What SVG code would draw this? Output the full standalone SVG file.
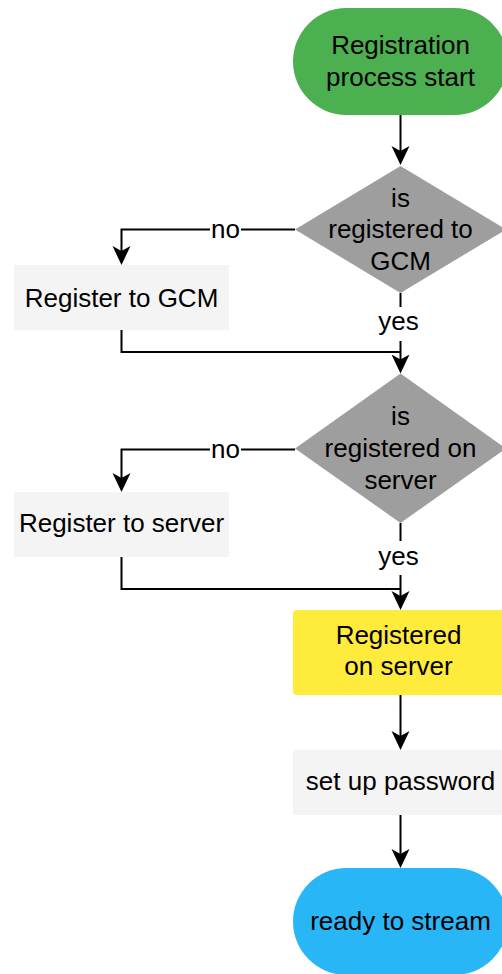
<svg xmlns="http://www.w3.org/2000/svg" width="502" height="974" viewBox="0 0 502 974">
<defs>
<style>
.t{font-family:"Liberation Sans",Arial,Helvetica,sans-serif;font-size:26px;fill:#000;text-anchor:middle}
.c{fill:none;stroke:#000;stroke-width:2}
.lbg{fill:#fff}
.box{fill:#f4f4f4}
.dia{fill:#9e9e9e}
</style>
<marker id="ah" markerUnits="userSpaceOnUse" markerWidth="20" markerHeight="20" refX="15" refY="9" orient="auto">
<path d="M0,0 L19,9 L0,18 L5,9 Z" fill="#000"/>
</marker>
</defs>
<rect width="502" height="974" fill="#fff"/>

<g id="start">
<rect x="293" y="8" width="215" height="107" rx="53.5" ry="53.5" fill="#4caf50"/>
<text class="t" x="400.5" y="53.5">Registration</text>
<text class="t" x="400.5" y="85.5">process start</text>
</g>

<g id="dec-gcm">
<polygon class="dia" points="400.5,166 506,229.5 400.5,293 295,229.5"/>
<text class="t" x="400.5" y="206.5">is</text>
<text class="t" x="400.5" y="238">registered to</text>
<text class="t" x="400.5" y="270">GCM</text>
</g>

<g id="reg-gcm">
<rect class="box" x="14" y="265" width="215" height="65"/>
<text class="t" x="121.5" y="307">Register to GCM</text>
</g>

<g id="dec-server">
<polygon class="dia" points="400.5,373.5 506,448.5 400.5,523 295,448.5"/>
<text class="t" x="400.5" y="425">is</text>
<text class="t" x="400.5" y="457">registered on</text>
<text class="t" x="400.5" y="489">server</text>
</g>

<g id="reg-server">
<rect class="box" x="14" y="492" width="215" height="65"/>
<text class="t" x="121.5" y="532">Register to server</text>
</g>

<g id="registered">
<rect x="293" y="610" width="215" height="85" rx="4" ry="4" fill="#ffeb3b"/>
<text class="t" x="398.5" y="643.5">Registered</text>
<text class="t" x="398.5" y="675">on server</text>
</g>

<g id="password">
<rect class="box" x="293" y="750" width="215" height="65"/>
<text class="t" x="400.5" y="790">set up password</text>
</g>

<g id="ready">
<rect x="293" y="868" width="215" height="107" rx="53.5" ry="53.5" fill="#29b6f6"/>
<text class="t" x="400.5" y="930">ready to stream</text>
</g>

<g id="connectors">
<path class="c" d="M400.5,115 V161" marker-end="url(#ah)"/>
<path class="c" d="M295,229.5 H121.5 V261" marker-end="url(#ah)"/>
<path class="c" d="M400.5,293 V369.5" marker-end="url(#ah)"/>
<path class="c" d="M121.5,330 V352 H400.5"/>
<path class="c" d="M295,449.5 H121.5 V488" marker-end="url(#ah)"/>
<path class="c" d="M400.5,523 V606" marker-end="url(#ah)"/>
<path class="c" d="M121.5,557 V589 H400.5"/>
<path class="c" d="M400.5,695 V746" marker-end="url(#ah)"/>
<path class="c" d="M400.5,815 V864" marker-end="url(#ah)"/>

<rect class="lbg" x="210" y="218" width="31" height="24"/>
<text class="t" x="225.5" y="238">no</text>
<rect class="lbg" x="378" y="307" width="42" height="34"/>
<text class="t" x="398.5" y="330">yes</text>
<rect class="lbg" x="210" y="438" width="31" height="24"/>
<text class="t" x="225.5" y="458">no</text>
<rect class="lbg" x="378" y="541" width="42" height="34"/>
<text class="t" x="398.5" y="564.5">yes</text>
</g>
</svg>
